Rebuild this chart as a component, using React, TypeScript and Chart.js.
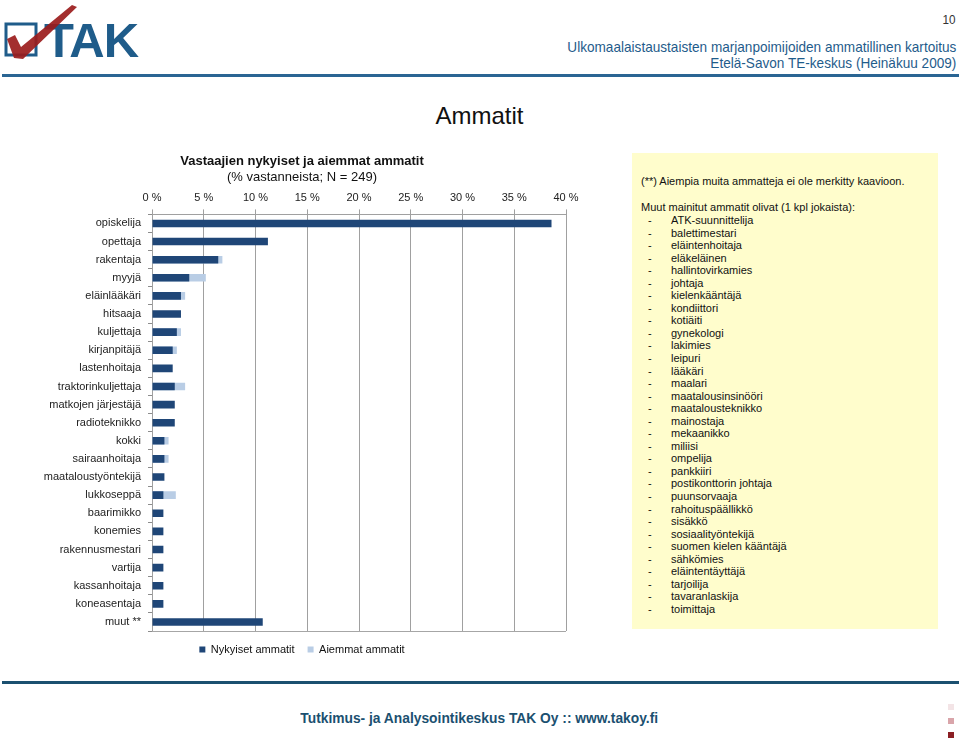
import React, { useEffect, useRef } from "react";
import { Chart, registerables } from "chart.js";

Chart.register(...registerables);

const categories = [
  "opiskelija", "opettaja", "rakentaja", "myyjä", "eläinlääkäri", "hitsaaja",
  "kuljettaja", "kirjanpitäjä", "lastenhoitaja", "traktorinkuljettaja",
  "matkojen järjestäjä", "radioteknikko", "kokki", "sairaanhoitaja",
  "maataloustyöntekijä", "lukkoseppä", "baarimikko", "konemies",
  "rakennusmestari", "vartija", "kassanhoitaja", "koneasentaja", "muut **",
];

const nykyiset = [
  38.6, 11.2, 6.4, 3.6, 2.8, 2.8, 2.4, 2.0, 2.0, 2.2, 2.2, 2.2,
  1.2, 1.2, 1.2, 1.1, 1.1, 1.1, 1.1, 1.1, 1.1, 1.1, 10.7,
];

const aiemmat = [
  0, 0, 6.8, 5.2, 3.2, 0, 2.8, 2.4, 0, 3.2, 0, 0,
  1.6, 1.6, 0, 2.3, 0, 0, 0, 0, 0, 0, 0,
];

const xTicks = [0, 5, 10, 15, 20, 25, 30, 35, 40];

const seriesNames = ["Nykyiset ammatit", "Aiemmat ammatit"];

const muutList = [
  "ATK-suunnittelija", "balettimestari", "eläintenhoitaja", "eläkeläinen",
  "hallintovirkamies", "johtaja", "kielenkääntäjä", "kondiittori", "kotiäiti",
  "gynekologi", "lakimies", "leipuri", "lääkäri", "maalari",
  "maatalousinsinööri", "maatalousteknikko", "mainostaja", "mekaanikko",
  "miliisi", "ompelija", "pankkiiri", "postikonttorin johtaja", "puunsorvaaja",
  "rahoituspäällikkö", "sisäkkö", "sosiaalityöntekijä", "suomen kielen kääntäjä",
  "sähkömies", "eläintentäyttäjä", "tarjoilija", "tavaranlaskija", "toimittaja",
];

const FONT = "'Liberation Sans', Arial, sans-serif";

const plotFrame = {
  id: "plotFrame",
  afterDraw(chart: any) {
    const { ctx, chartArea } = chart;
    ctx.save();
    ctx.strokeStyle = "#a6a6a6";
    ctx.lineWidth = 1;
    ctx.beginPath();
    ctx.moveTo(chartArea.left, Math.round(chartArea.bottom) + 0.5);
    ctx.lineTo(chartArea.right, Math.round(chartArea.bottom) + 0.5);
    ctx.stroke();
    ctx.restore();
  },
};

function BarChart() {
  const ref = useRef<HTMLCanvasElement | null>(null);
  useEffect(() => {
    if (!ref.current) return;
    Chart.defaults.font.family = FONT;
    const chart = new Chart(ref.current, {
      type: "bar",
      data: {
        labels: categories,
        datasets: [
          {
            label: seriesNames[0],
            data: nykyiset,
            backgroundColor: "#1f4677",
            order: 0,
            categoryPercentage: 1,
            barPercentage: 0.42,
          },
          {
            label: seriesNames[1],
            data: aiemmat,
            backgroundColor: "#b9cde5",
            order: 1,
            categoryPercentage: 1,
            barPercentage: 0.42,
          },
        ],
      },
      options: {
        indexAxis: "y",
        animation: false,
        responsive: false,
        maintainAspectRatio: false,
        grouped: false,
        layout: { padding: { left: 38, right: 34, top: 0, bottom: 10 } },
        plugins: {
          title: {
            display: true,
            text: "Vastaajien nykyiset ja aiemmat ammatit",
            color: "#111",
            font: { size: 13, weight: "bold", family: FONT },
            padding: { top: 14, bottom: 0 },
          },
          subtitle: {
            display: true,
            text: "(% vastanneista; N = 249)",
            color: "#111",
            font: { size: 13, family: FONT },
            padding: { top: 0, bottom: 1 },
          },
          legend: {
            position: "bottom",
            labels: {
              boxWidth: 6,
              boxHeight: 6,
              color: "#111",
              font: { size: 11, family: FONT },
              padding: 13,
            },
          },
          tooltip: { enabled: false },
        },
        scales: {
          x: {
            position: "top",
            min: 0,
            max: 40,
            afterBuildTicks: (axis: any) => {
              axis.ticks = xTicks.map((v) => ({ value: v }));
            },
            ticks: {
              callback: (v: any) => v + " %",
              color: "#222",
              font: { size: 11, family: FONT },
              padding: 5,
              maxRotation: 0,
            },
            grid: { color: "#a0a0a0", tickLength: 5, lineWidth: 1 },
            border: { color: "#a0a0a0" },
          },
          y: {
            afterFit: (axis: any) => {
              axis.width = 114;
            },
            ticks: {
              color: "#222",
              font: { size: 11, family: FONT },
              padding: 7,
              autoSkip: false,
            },
            grid: {
              drawOnChartArea: false,
              drawTicks: true,
              tickLength: 4,
              color: "#8c8c8c",
            },
            border: { color: "#a0a0a0" },
          },
        },
      } as any,
      plugins: [plotFrame],
    });
    return () => chart.destroy();
  }, []);
  return (
    <canvas
      ref={ref}
      width={600}
      height={535}
      style={{ position: "absolute", left: 0, top: 140, width: 600, height: 535 }}
    />
  );
}

function Logo() {
  return (
    <svg width={150} height={70} style={{ position: "absolute", left: 0, top: 0 }}>
      <rect x={6} y={24} width={30} height={31} fill="none" stroke="#1f5c8a" strokeWidth={3} />
      <text x={44} y={57} fontSize={49} fontWeight="bold" fill="#1f5c8a" fontFamily={FONT} letterSpacing={-1}>
        TAK
      </text>
      <path d="M7 39 L15 35 L21 47 L72 5 L77 7 L23 59 L14 58 Z" fill="#9b1c1c" opacity={0.92} />
    </svg>
  );
}

export default function App() {
  useEffect(() => {
    document.body.style.margin = "0";
  }, []);
  return (
    <div
      style={{
        position: "fixed",
        left: 0,
        top: 0,
        width: 959,
        height: 742,
        background: "#fff",
        overflow: "hidden",
        fontFamily: FONT,
      }}
    >
      <Logo />
      <div style={{ position: "absolute", right: 4, top: 12, fontSize: 13, color: "#333", transform: "scaleX(0.9)", transformOrigin: "right" }}>10</div>
      <div
        style={{
          position: "absolute",
          right: 3,
          top: 39,
          textAlign: "right",
          fontSize: 15,
          lineHeight: "16px",
          color: "#1f5c8b",
          transform: "scaleX(0.906)",
          transformOrigin: "right",
        }}
      >
        <div>Ulkomaalaistaustaisten marjanpoimijoiden ammatillinen kartoitus</div>
        <div>Etelä-Savon TE-keskus (Heinäkuu 2009)</div>
      </div>
      <div style={{ position: "absolute", left: 2, top: 74, width: 957, height: 3, background: "#2a6593" }} />
      <div
        style={{
          position: "absolute",
          left: 0,
          width: 959,
          top: 102,
          textAlign: "center",
          fontSize: 24,
          lineHeight: "28px",
          color: "#111",
        }}
      >
        Ammatit
      </div>
      <BarChart />
      <div
        style={{
          position: "absolute",
          left: 632,
          top: 153,
          width: 306,
          height: 476,
          background: "#fffdcc",
          fontSize: 11,
          color: "#111",
          boxSizing: "border-box",
          paddingLeft: 9,
          paddingTop: 21,
        }}
      >
        <div style={{ lineHeight: "14px" }}>(**) Aiempia muita ammatteja ei ole merkitty kaavioon.</div>
        <div style={{ lineHeight: "14px", marginTop: 12 }}>Muut mainitut ammatit olivat (1 kpl jokaista):</div>
        {muutList.map((m) => (
          <div key={m} style={{ lineHeight: "12.55px", height: 12.55, whiteSpace: "nowrap" }}>
            <span style={{ display: "inline-block", width: 30, paddingLeft: 7, boxSizing: "border-box" }}>-</span>
            {m}
          </div>
        ))}
      </div>
      <div style={{ position: "absolute", left: 2, top: 681, width: 957, height: 3, background: "#1b5070" }} />
      <div
        style={{
          position: "absolute",
          left: 0,
          width: 959,
          top: 709,
          textAlign: "center",
          fontSize: 15,
          fontWeight: "bold",
          color: "#1b5070",
          lineHeight: "18px",
          transform: "scaleX(0.92)",
          transformOrigin: "476px 50%",
        }}
      >
        Tutkimus- ja Analysointikeskus TAK Oy :: www.takoy.fi
      </div>
      <div style={{ position: "absolute", left: 948, top: 704, width: 6, height: 6, background: "#f3e4e6" }} />
      <div style={{ position: "absolute", left: 948, top: 718, width: 6, height: 6, background: "#d9a5aa" }} />
      <div style={{ position: "absolute", left: 948, top: 732, width: 6, height: 6, background: "#8b1f24" }} />
    </div>
  );
}
